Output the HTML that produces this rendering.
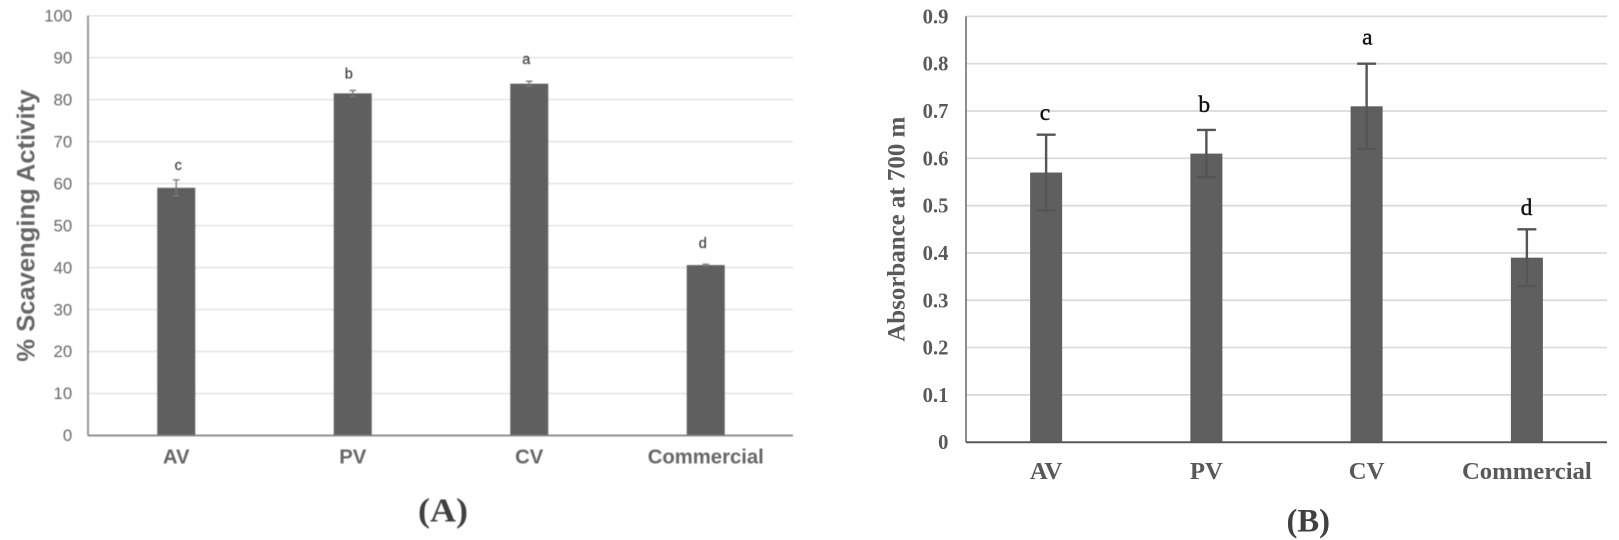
<!DOCTYPE html>
<html lang="en">
<head>
<meta charset="utf-8">
<title>Scavenging activity and absorbance charts</title>
<style>
html,body{margin:0;padding:0;background:#fff;}
#figure{display:block;width:1619px;height:540px;}
</style>
</head>
<body>
<svg id="figure" xmlns="http://www.w3.org/2000/svg" width="1619" height="540" viewBox="0 0 1619 540"></svg>
<script>
const categories = ['AV', 'PV', 'CV', 'Commercial'];

const valuesA = [59, 81.5, 83.8, 40.6];
const errorsA = [1.9, 0.7, 0.6, 0.2];
const lettersA = ['c', 'b', 'a', 'd'];
const letterLevelsA = [63.2, 85, 88.5, 44.7];
const ticksA = [0, 10, 20, 30, 40, 50, 60, 70, 80, 90, 100];
const tickLabelsA = ['0', '10', '20', '30', '40', '50', '60', '70', '80', '90', '100'];

const valuesB = [0.57, 0.61, 0.71, 0.39];
const errorsB = [0.08, 0.05, 0.09, 0.06];
const lettersB = ['c', 'b', 'a', 'd'];
const letterLevelsB = [0.681, 0.698, 0.841, 0.48];
const ticksB = [0, 0.1, 0.2, 0.3, 0.4, 0.5, 0.6, 0.7, 0.8, 0.9];
const tickLabelsB = ['0', '0.1', '0.2', '0.3', '0.4', '0.5', '0.6', '0.7', '0.8', '0.9'];

const SVG_NS = 'http://www.w3.org/2000/svg';
const svg = document.getElementById('figure');

function make(tag, parent, attrs, text) {
  const el = document.createElementNS(SVG_NS, tag);
  for (const k in attrs) el.setAttribute(k, attrs[k]);
  if (text !== undefined) el.textContent = text;
  parent.appendChild(el);
  return el;
}

function drawChart(c) {
  const y = v => c.zeroY + (c.topY - c.zeroY) * (v - c.min) / (c.max - c.min);
  const band = (c.right - c.left) / c.categories.length;
  const x = i => c.left + band * (i + 0.5);

  const group = make('g', svg, {style: 'filter:blur(' + c.blur + 'px)'});
  
  

  c.ticks.forEach((t, i) => {
    if (t !== c.min) {
      const grid = make('line', group, {x1: c.left, x2: c.gridEnd, y1: y(t), y2: y(t), stroke: c.gridColor, 'stroke-width': c.gridWidth});
      
      
    }
    const label = make('text', group, {x: c.tickX, y: y(t) + c.tickDy, 'text-anchor': 'end', 'font-family': c.font, 'font-size': c.tickSize, 'font-weight': c.tickWeight, fill: c.tickColor}, c.tickLabels[i]);
    
    
  });

  c.categories.forEach((name, i) => {
    const bar = make('rect', group, {x: x(i) - c.barWidth / 2, y: y(c.values[i]), width: c.barWidth, height: y(c.min) - y(c.values[i]), fill: '#5f5f5f'});
    
    

    const hi = y(c.values[i] + c.errors[i]);
    const lo = y(c.values[i] - c.errors[i]);
    const err = make('path', group, {d: 'M' + x(i) + ' ' + hi + 'V' + lo + 'M' + (x(i) - c.capHalf) + ' ' + hi + 'H' + (x(i) + c.capHalf) + 'M' + (x(i) - c.capHalf) + ' ' + lo + 'H' + (x(i) + c.capHalf), fill: 'none', stroke: c.errColor, 'stroke-width': c.errWidth});
    
    

    const sig = make('text', group, {x: x(i) + c.letterDx[i], y: y(c.letterLevels[i]), 'text-anchor': 'middle', 'font-family': c.font, 'font-size': c.letterSize, 'font-weight': 'normal', fill: c.letterColor, stroke: c.letterColor, 'stroke-width': c.letterStroke}, c.letters[i]);
    
    

    const cat = make('text', group, {x: x(i), y: c.catY, 'text-anchor': 'middle', 'font-family': c.font, 'font-size': c.catSize, 'font-weight': 'bold', fill: c.tickColor}, name);
    
    
  });

  const yAxis = make('line', group, {x1: c.left, x2: c.left, y1: y(c.max), y2: y(c.min), stroke: c.axisColor, 'stroke-width': c.axisWidth});
  
  

  const xAxis = make('line', group, {x1: c.left, x2: c.gridEnd, y1: y(c.min), y2: y(c.min), stroke: c.baseColor, 'stroke-width': c.baseWidth});
  
  

  const title = make('text', group, {transform: 'translate(' + c.titleX + ' ' + c.titleY + ') rotate(-90)', 'font-family': c.font, 'font-size': c.titleSize, 'font-weight': 'bold', fill: c.tickColor, textLength: c.titleLength, lengthAdjust: 'spacingAndGlyphs'}, c.title);
  
  

  const panel = make('text', group, {x: c.panelX, y: c.panelY, 'text-anchor': 'middle', 'font-family': '"Liberation Serif", serif', 'font-size': c.panelSize, 'font-weight': 'bold', fill: '#404040', textLength: c.panelLength, lengthAdjust: 'spacingAndGlyphs'}, c.panel);
  
  
}

drawChart({
  name: 'chart-a-scavenging-activity', categories, values: valuesA, errors: errorsA, letters: lettersA, letterLevels: letterLevelsA,
  ticks: ticksA, tickLabels: tickLabelsA, min: 0, max: 100,
  left: 88, right: 794, gridEnd: 793, topY: 15.7, zeroY: 435.5, blur: 0.45,
  font: '"Liberation Sans", sans-serif',
  gridColor: '#e4e4e4', gridWidth: 1.5, axisColor: '#888888', axisWidth: 1.7, baseColor: '#808080', baseWidth: 1.7,
  tickX: 72.2, tickDy: 5.7, tickSize: 16.8, tickWeight: 'normal', tickColor: '#666666',
  barWidth: 38, errColor: '#777777', errWidth: 1.3, capHalf: 3.3,
  letterDx: [2, -4, -3, -3], letterSize: 14.5, letterStroke: 0.15, letterColor: '#333333',
  catY: 463.3, catSize: 20.3,
  title: '% Scavenging Activity', titleX: 34.3, titleY: 361.7, titleSize: 25, titleLength: 272,
  panel: '(A)', panelX: 443, panelY: 521.5, panelSize: 34, panelLength: 50
});

drawChart({
  name: 'chart-b-absorbance', categories, values: valuesB, errors: errorsB, letters: lettersB, letterLevels: letterLevelsB,
  ticks: ticksB, tickLabels: tickLabelsB, min: 0, max: 0.9,
  left: 966, right: 1607, gridEnd: 1607, topY: 16.4, zeroY: 442.2, blur: 0.2,
  font: '"Liberation Serif", serif',
  gridColor: '#d9d9d9', gridWidth: 1.7, axisColor: '#808080', axisWidth: 1.8, baseColor: '#595959', baseWidth: 2,
  tickX: 948.4, tickDy: 7, tickSize: 20.6, tickWeight: 'bold', tickColor: '#595959',
  barWidth: 32, errColor: '#555555', errWidth: 2.4, capHalf: 9.5,
  letterDx: [-1.1, -2.1, 0.7, -0.4], letterSize: 23.5, letterStroke: 0.4, letterColor: '#111111',
  catY: 479, catSize: 24.7,
  title: 'Absorbance at 700 m', titleX: 904.3, titleY: 341.7, titleSize: 25, titleLength: 225,
  panel: '(B)', panelX: 1308.3, panelY: 531.5, panelSize: 33, panelLength: 43.5
});
</script>
</body>
</html>
